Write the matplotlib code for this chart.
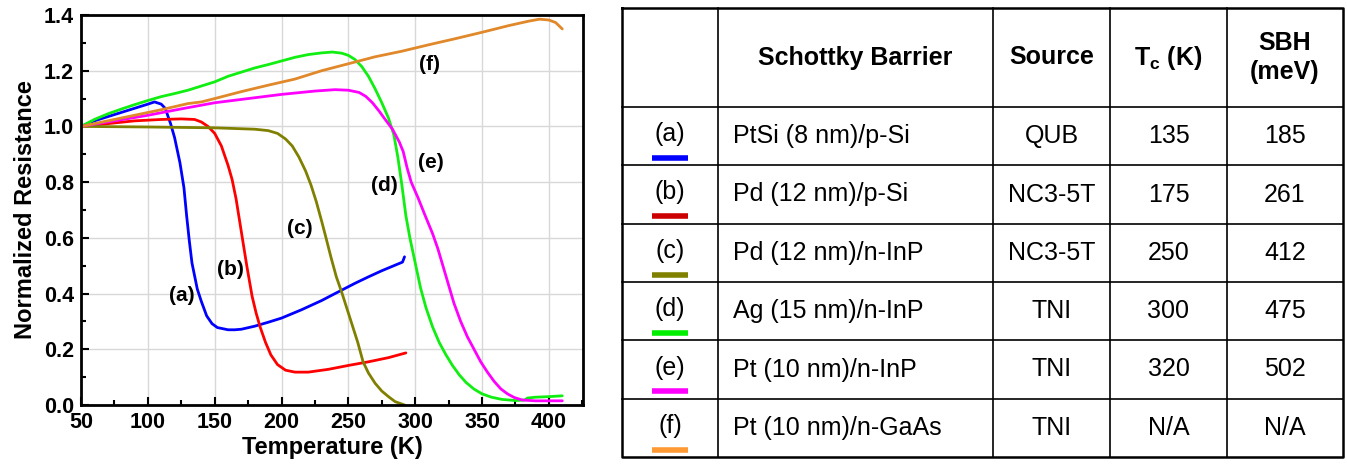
import numpy as np
import matplotlib
matplotlib.use("Agg")
import matplotlib.pyplot as plt

plt.rcParams['font.family'] = ['Liberation Sans', 'DejaVu Sans']
plt.rcParams['mathtext.fontset'] = 'custom'
plt.rcParams['mathtext.rm'] = 'Liberation Sans'
plt.rcParams['mathtext.bf'] = 'Liberation Sans:bold'

# --- curve data ---
Ta = [50, 60, 70, 80, 90, 100, 105, 110, 113, 117, 120, 124, 127, 129, 131, 133, 137, 140, 144, 148,
      152, 160, 165, 170, 180, 190, 200, 215, 230, 240, 255, 265, 275, 288, 290.5, 292]
Ra = [1.0, 1.02, 1.035, 1.05, 1.065, 1.08, 1.088, 1.08, 1.065, 1.01, 0.96, 0.87, 0.78, 0.68, 0.59, 0.51,
      0.416, 0.372, 0.32, 0.292, 0.278, 0.27, 0.27, 0.272, 0.283, 0.297, 0.312, 0.342, 0.375, 0.4, 0.437,
      0.46, 0.482, 0.508, 0.513, 0.532]

Tb = [50, 70, 90, 110, 125, 135, 140, 145, 150, 155, 160, 163, 166, 169, 171, 174, 178, 181, 184, 188,
      192, 197, 203, 210, 220, 235, 250, 265, 280, 293]
Rb = [1.0, 1.01, 1.02, 1.025, 1.027, 1.025, 1.016, 1.0, 0.975, 0.93, 0.86, 0.81, 0.74, 0.65, 0.59, 0.5,
      0.39, 0.33, 0.28, 0.225, 0.18, 0.145, 0.125, 0.118, 0.118, 0.128, 0.142, 0.155, 0.17, 0.187]

Tc = [50, 100, 150, 180, 190, 197, 203, 208, 213, 218, 222, 226, 230, 233, 237, 241, 245, 249, 253,
      257, 261, 265, 270, 275, 280, 285, 292]
Rc = [1.0, 0.998, 0.995, 0.99, 0.985, 0.975, 0.955, 0.93, 0.89, 0.84, 0.79, 0.73, 0.66, 0.605, 0.53,
      0.46, 0.405, 0.345, 0.285, 0.225, 0.155, 0.115, 0.078, 0.05, 0.03, 0.012, 0.0]

Td = [50, 60, 70, 80, 90, 100, 110, 120, 130, 140, 150, 160, 170, 180, 190, 200, 210, 220, 230, 238,
      245, 250, 255, 260, 265, 270, 275, 280, 284, 287, 290, 293, 296, 300, 304, 308, 313, 318, 323, 328,
      333, 338, 344, 350, 357, 365, 375, 382, 384, 390, 400, 410]
Rd = [1.0, 1.025, 1.045, 1.062, 1.078, 1.093, 1.107, 1.118, 1.13, 1.145, 1.16, 1.18, 1.195, 1.21, 1.222,
      1.235, 1.248, 1.258, 1.264, 1.267, 1.263, 1.255, 1.24, 1.215, 1.18, 1.135, 1.085, 1.03, 0.97, 0.89,
      0.79, 0.68, 0.6, 0.51, 0.42, 0.35, 0.28, 0.224, 0.18, 0.141, 0.108, 0.081, 0.057, 0.04, 0.028, 0.02,
      0.016, 0.018, 0.025, 0.028, 0.03, 0.033]

Te = [50, 75, 100, 125, 150, 175, 200, 225, 240, 250, 258, 263, 268, 273, 278, 283, 288, 291, 294, 297,
      302, 307, 313, 317, 321, 325, 329, 334, 339, 344, 349, 354, 359, 364, 369, 374, 380, 390, 410]
Re = [1.0, 1.02, 1.04, 1.063, 1.085, 1.1, 1.115, 1.127, 1.132, 1.13, 1.122, 1.108, 1.085, 1.055, 1.022,
      0.99, 0.945, 0.91, 0.85, 0.8, 0.745, 0.685, 0.615, 0.56, 0.495, 0.43, 0.365, 0.3, 0.245, 0.2, 0.155,
      0.118, 0.085, 0.058, 0.04, 0.027, 0.018, 0.015, 0.015]

Tf = [50, 70, 90, 110, 130, 140, 150, 170, 190, 210, 230, 250, 270, 290, 310, 330, 350, 370, 385, 393,
      400, 405, 410]
Rf = [1.0, 1.02, 1.04, 1.06, 1.082, 1.088, 1.1, 1.125, 1.148, 1.17, 1.2, 1.225, 1.25, 1.27, 1.293, 1.315,
      1.338, 1.362, 1.378, 1.385, 1.382, 1.373, 1.35]

line_colors = ['#0000ff', '#ff0000', '#808000', '#11ee11', '#ff00ff', '#e0882a']
bar_colors = ['#0000ff', '#cc0000', '#808000', '#00ee00', '#ff00ff', '#ff9933']
curve_labels = ['(a)', '(b)', '(c)', '(d)', '(e)', '(f)']
label_T = [125.5, 162, 214, 277, 312, 310.5]
label_R = [0.392, 0.488, 0.632, 0.787, 0.869, 1.221]

# --- table data ---
headers = ['', 'Schottky Barrier', 'Source', r'T$_{\mathbf{c}}$ (K)', 'SBH\n(meV)']
barrier = ['PtSi (8 nm)/p-Si', 'Pd (12 nm)/p-Si', 'Pd (12 nm)/n-InP',
           'Ag (15 nm)/n-InP', 'Pt (10 nm)/n-InP', 'Pt (10 nm)/n-GaAs']
source = ['QUB', 'NC3-5T', 'NC3-5T', 'TNI', 'TNI', 'TNI']
tc = ['135', '175', '250', '300', '320', 'N/A']
sbh = ['185', '261', '412', '475', '502', 'N/A']

W, H = 1347, 469
fig = plt.figure(figsize=(W / 100, H / 100), dpi=100)
ax = fig.add_axes([81 / W, 64 / H, 502 / W, 390 / H])

curves = [(Ta, Ra), (Tb, Rb), (Tc, Rc), (Td, Rd), (Te, Re), (Tf, Rf)]
for (t, r), c in zip(curves, line_colors):
    ax.plot(t, r, color=c, lw=2, solid_capstyle='round')
for lab, x, y in zip(curve_labels, label_T, label_R):
    ax.text(x, y, lab, fontsize=15, fontweight='bold', ha='center', va='center')

ax.set_xlim(50, 425.5)
ax.set_ylim(0, 1.4)
ax.set_xticks(np.arange(50, 401, 50))
ax.set_xticks(np.arange(75, 426, 50), minor=True)
ax.set_yticks(np.arange(0, 1.41, 0.2))
ax.set_yticks(np.arange(0.1, 1.4, 0.2), minor=True)
ax.set_yticklabels(['%.1f' % v for v in np.arange(0, 1.41, 0.2)])
ax.grid(True, which='major', color='#d8d8d8', lw=1)
ax.set_axisbelow(True)
ax.tick_params(which='both', direction='in', width=1.5, labelsize=15.5, top=False, right=False)
ax.tick_params(which='major', length=6, pad=5)
ax.tick_params(which='minor', length=3.5)
for lab in ax.get_xticklabels() + ax.get_yticklabels():
    lab.set_fontweight('bold')
for s in ax.spines.values():
    s.set_linewidth(2)
ax.set_xlabel('Temperature (K)', fontsize=17, fontweight='bold', labelpad=2)
ax.set_ylabel('Normalized Resistance', fontsize=17, fontweight='bold', labelpad=5)

# --- table drawn in pixel coordinates ---
tb = fig.add_axes([0, 0, 1, 1])
tb.set_xlim(0, W)
tb.set_ylim(H, 0)
tb.axis('off')
col_x = [622, 718, 993, 1110, 1227, 1343]
row_y = [8, 107] + [107 + (457 - 107) / 6 * (i + 1) for i in range(6)]

for x in col_x[1:-1]:
    tb.plot([x, x], [row_y[0], row_y[-1]], color='black', lw=1.2)
for y in row_y[1:-1]:
    tb.plot([col_x[0], col_x[-1]], [y, y], color='black', lw=1.2)
tb.plot([col_x[0], col_x[-1], col_x[-1], col_x[0], col_x[0]],
        [row_y[0], row_y[0], row_y[-1], row_y[-1], row_y[0]], color='black', lw=1.8)

hy = (row_y[0] + row_y[1]) / 2
for i, h in enumerate(headers):
    if h:
        tb.text((col_x[i] + col_x[i + 1]) / 2, hy, h, fontsize=18, fontweight='bold',
                ha='center', va='center', linespacing=1.3)

for j in range(6):
    cy = (row_y[j + 1] + row_y[j + 2]) / 2
    cx0 = (col_x[0] + col_x[1]) / 2
    tb.text(cx0, cy - 2, curve_labels[j], fontsize=18, ha='center', va='center')
    tb.plot([cx0 - 18, cx0 + 18], [cy + 22, cy + 22], color=bar_colors[j], lw=4, solid_capstyle='butt')
    tb.text(col_x[1] + 15, cy, barrier[j], fontsize=18, ha='left', va='center')
    tb.text((col_x[2] + col_x[3]) / 2, cy, source[j], fontsize=18, ha='center', va='center')
    tb.text((col_x[3] + col_x[4]) / 2, cy, tc[j], fontsize=18, ha='center', va='center')
    tb.text((col_x[4] + col_x[5]) / 2, cy, sbh[j], fontsize=18, ha='center', va='center')

fig.savefig('out.png', dpi=100)
